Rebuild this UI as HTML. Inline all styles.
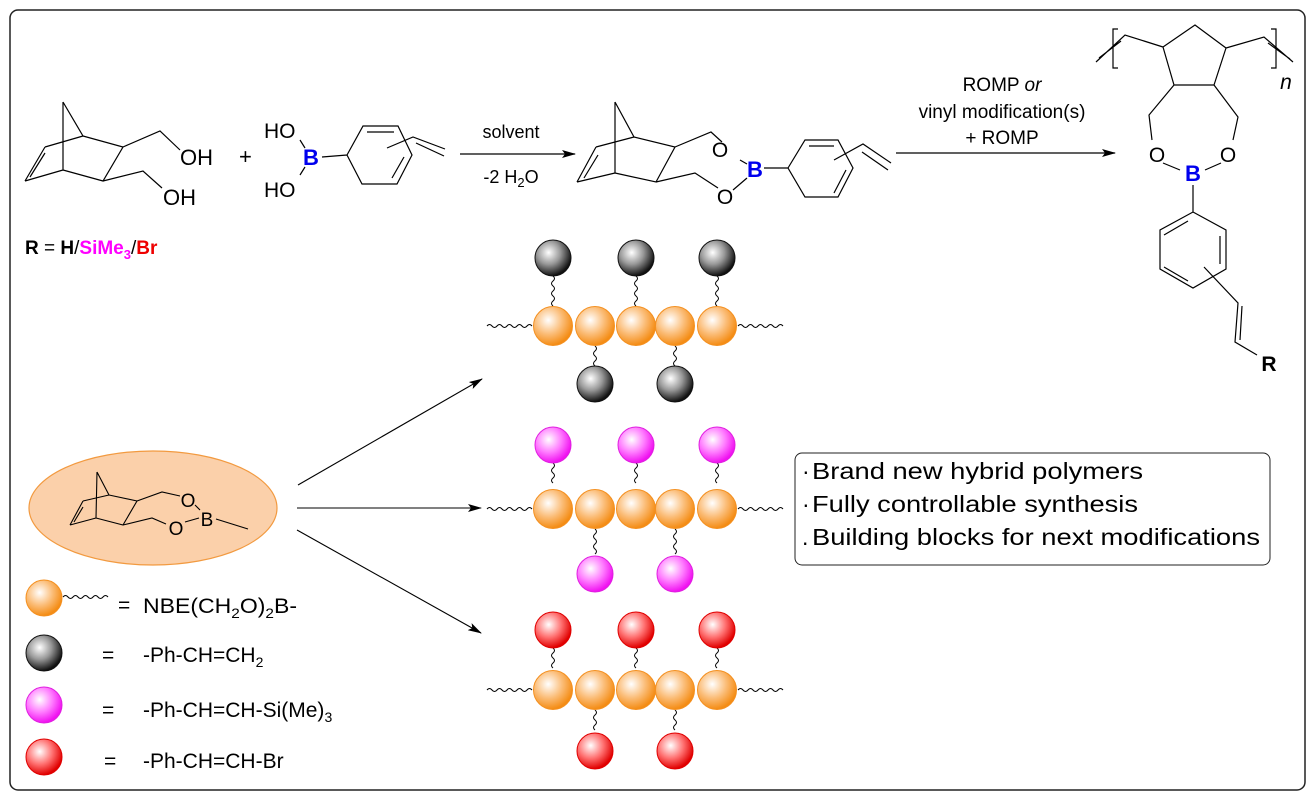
<!DOCTYPE html>
<html><head><meta charset="utf-8"><style>
html,body{margin:0;padding:0;background:#fff}
svg{display:block;font-family:"Liberation Sans",Arial,sans-serif}
</style></head><body>
<svg width="1315" height="800" viewBox="0 0 1315 800" xmlns="http://www.w3.org/2000/svg">
<defs>
<radialGradient id="go" cx="0.38" cy="0.35" r="0.65"><stop offset="0" stop-color="#fff"/><stop offset="0.55" stop-color="#fbbd78"/><stop offset="1" stop-color="#f48c14"/></radialGradient>
<radialGradient id="gk" cx="0.38" cy="0.35" r="0.65"><stop offset="0" stop-color="#fff"/><stop offset="0.5" stop-color="#999"/><stop offset="1" stop-color="#111"/></radialGradient>
<radialGradient id="gm" cx="0.38" cy="0.35" r="0.65"><stop offset="0" stop-color="#fff"/><stop offset="0.55" stop-color="#ff7cff"/><stop offset="1" stop-color="#f010f0"/></radialGradient>
<radialGradient id="gr" cx="0.38" cy="0.35" r="0.65"><stop offset="0" stop-color="#fff"/><stop offset="0.55" stop-color="#ff7070"/><stop offset="1" stop-color="#e00000"/></radialGradient>
<marker id="ah" markerWidth="14" markerHeight="8" refX="13" refY="4" orient="auto" markerUnits="userSpaceOnUse"><path d="M0,0 L14,4 L0,8 L3,4z" fill="#000"/></marker>
<path id="wh" d="M0,0 q2.5,-3 5,0 t5,0 t5,0 t5,0 t5,0 t5,0 t5,0 t5,0 t5,0" fill="none" stroke="#000" stroke-width="1"/>
<g id="chain">
<use href="#wh" x="487" y="0"/><use href="#wh" x="738" y="0"/>
<circle cx="553" cy="0" r="19.5" fill="url(#go)" stroke="#f49020"/>
<circle cx="595" cy="0" r="19.5" fill="url(#go)" stroke="#f49020"/>
<circle cx="636" cy="0" r="19.5" fill="url(#go)" stroke="#f49020"/>
<circle cx="675" cy="0" r="19.5" fill="url(#go)" stroke="#f49020"/>
<circle cx="717" cy="0" r="19.5" fill="url(#go)" stroke="#f49020"/>
</g>
</defs>

<rect x="10" y="10" width="1295" height="780" rx="8" fill="none" stroke="#222" stroke-width="1.5"/>

<g stroke="#000" stroke-width="1.2" fill="none">
<path d="M63,102 L83,136 M63,102 L63,170 M45,147 L83,136 M25,181 L63,170 M45,147 L25,181 M45,153 L30,177 M83,136 L123,147 L103,181 L63,170 M123,147 L160,131 L180,150 M103,181 L143,171 L162,188"/>
<path d="M300,140 L305,148 M300,175 L305,167 M322,157 L347,155 M347,155 L363,126 L398,126 L412,155 L397,184 L362,184 Z M367,132 L394,132 M404,157 L392,178 M387,148 L413,137 L445,149 M416,143 L444,156"/>
<path d="M615,102 L634,137 M615,102 L615,173 M596,147 L634,137 M577,182 L615,173 M596,147 L577,182 M598,155 L584,178 M634,137 L675,147 L656,182 L615,173 M675,147 L711,132 L722,142 M656,182 L695,173 L718,188 M740,160 L747,164 M733,190 L747,178 M764,168 L788,168 M788,168 L805,140 L838,140 L853,168 L838,197 L805,197 Z M809,146 L834,146 M846,170 L834,193 M834,160 L863,144 L891,163 M862,152 L888,170"/>
<path d="M1195,25 L1163,47 L1174,85 L1214,85 L1226,48 Z M1163,47 L1125,35 L1096,62 M1121,41 L1099,58 M1226,48 L1264,37 L1293,62 M1268,43 L1290,59 M1118,29 L1113,29 L1113,68 L1118,68 M1271,29 L1276,29 L1276,68 L1271,68 M1174,85 L1149,115 L1152,140 M1214,85 L1238,117 L1233,140 M1163,163 L1180,170 M1221,163 L1205,170 M1193,185 L1193,212 M1193,212 L1226,230 L1226,269 L1193,288 L1160,269 L1160,230 Z M1220,236 L1220,264 M1188,281 L1164,267 M1164,235 L1188,221 M1204,267 L1238,303 L1235,342 L1257,355 M1242,306 L1240,340"/>
</g>
<text font-size="22" x="180" y="165">OH</text>
<text font-size="22" x="163" y="205">OH</text>
<text font-size="22" x="239" y="164">+</text>
<text font-size="21" x="264" y="138">HO</text>
<text font-size="21" x="264" y="197">HO</text>
<text font-size="22" x="303" y="165" fill="#0000ee" font-weight="bold">B</text>
<text font-size="19" x="25" y="254" font-weight="bold">R <tspan font-weight="normal">=</tspan> H<tspan font-weight="normal">/</tspan><tspan fill="#ff00ff">SiMe<tspan font-size="13" dy="5">3</tspan></tspan><tspan font-weight="normal" dy="-5">/</tspan><tspan fill="#ee0000">Br</tspan></text>

<line x1="460" y1="154" x2="575" y2="154" stroke="#000" stroke-width="1.2" marker-end="url(#ah)"/>
<text font-size="18" x="511" y="138" text-anchor="middle">solvent</text>
<text font-size="18" x="511" y="183" text-anchor="middle">-2 H<tspan font-size="13" dy="4">2</tspan><tspan dy="-4">O</tspan></text>

<text font-size="21" x="720" y="157" text-anchor="middle">O</text>
<text font-size="21" x="725" y="204" text-anchor="middle">O</text>
<text font-size="22" x="755" y="177" text-anchor="middle" fill="#0000ee" font-weight="bold">B</text>

<line x1="896" y1="153" x2="1115" y2="153" stroke="#000" stroke-width="1.2" marker-end="url(#ah)"/>
<text font-size="19" x="1002" y="91" text-anchor="middle">ROMP <tspan font-style="italic">or</tspan></text>
<text font-size="19" x="1002" y="118" text-anchor="middle">vinyl modification(s)</text>
<text font-size="19" x="1002" y="144" text-anchor="middle">+ ROMP</text>

<text font-size="21" x="1157" y="162" text-anchor="middle">O</text>
<text font-size="21" x="1228" y="162" text-anchor="middle">O</text>
<text font-size="22" x="1193" y="181" text-anchor="middle" fill="#0000ee" font-weight="bold">B</text>
<text font-size="21" x="1269" y="371" text-anchor="middle" font-weight="bold">R</text>
<text font-size="21" x="1286" y="89" text-anchor="middle" font-style="italic">n</text>

<ellipse cx="153" cy="508" rx="124" ry="57" fill="#fbd0aa" stroke="#f29a40" stroke-width="1.2"/>
<g stroke="#000" stroke-width="1.1" fill="none">
<path d="M97,472 L109,495 M97,472 L96,518 M83,501 L109,495 M70,525 L96,518 M83,501 L70,525 M83,507 L74,522 M109,495 L137,501 L123,525 L96,518 M137,501 L162,492 L180,496 M123,525 L152,518 L166,524 M195,505 L200,510 M185,522 L199,518 M216,519 L248,529"/>
</g>
<text font-size="19" x="188" y="507" text-anchor="middle">O</text>
<text font-size="19" x="176" y="535" text-anchor="middle">O</text>
<text font-size="19" x="207" y="526" text-anchor="middle">B</text>

<g stroke="#000" stroke-width="1.1" marker-end="url(#ah)">
<line x1="298" y1="485" x2="482" y2="379"/>
<line x1="297" y1="508" x2="481" y2="508"/>
<line x1="297" y1="530" x2="481" y2="633"/>
</g>

<g stroke="#000" stroke-width="1" fill="none">
<path d="M553,276 q3,2.5 0,5 t0,5 t0,5 t0,5 t0,5 t0,5"/>
<path d="M636,276 q3,2.5 0,5 t0,5 t0,5 t0,5 t0,5 t0,5"/>
<path d="M717,276 q3,2.5 0,5 t0,5 t0,5 t0,5 t0,5 t0,5"/>
<path d="M595,346 q3,2.5 0,5 t0,5 t0,5 t0,5"/>
<path d="M675,346 q3,2.5 0,5 t0,5 t0,5 t0,5"/>
<path d="M553,463 q3,2.5 0,5 t0,5 t0,5 t0,5"/>
<path d="M636,463 q3,2.5 0,5 t0,5 t0,5 t0,5"/>
<path d="M717,463 q3,2.5 0,5 t0,5 t0,5 t0,5"/>
<path d="M595,529 q3,2.5 0,5 t0,5 t0,5 t0,5 t0,5"/>
<path d="M675,529 q3,2.5 0,5 t0,5 t0,5 t0,5 t0,5"/>
<path d="M553,648 q3,2.5 0,5 t0,5 t0,5 t0,5"/>
<path d="M636,648 q3,2.5 0,5 t0,5 t0,5 t0,5"/>
<path d="M717,648 q3,2.5 0,5 t0,5 t0,5 t0,5"/>
<path d="M595,710 q3,2.5 0,5 t0,5 t0,5 t0,5"/>
<path d="M675,710 q3,2.5 0,5 t0,5 t0,5 t0,5"/>
</g>
<use href="#chain" y="326"/>
<use href="#chain" y="509"/>
<use href="#chain" y="690"/>
<g stroke="#111" stroke-width="1">
<circle cx="553" cy="258" r="18" fill="url(#gk)"/><circle cx="636" cy="258" r="18" fill="url(#gk)"/><circle cx="717" cy="258" r="18" fill="url(#gk)"/>
<circle cx="595" cy="384" r="18" fill="url(#gk)"/><circle cx="675" cy="384" r="18" fill="url(#gk)"/>
</g>
<g stroke="#e020e0" stroke-width="1">
<circle cx="553" cy="445" r="18" fill="url(#gm)"/><circle cx="636" cy="445" r="18" fill="url(#gm)"/><circle cx="717" cy="445" r="18" fill="url(#gm)"/>
<circle cx="595" cy="574" r="18" fill="url(#gm)"/><circle cx="675" cy="574" r="18" fill="url(#gm)"/>
</g>
<g stroke="#e00000" stroke-width="1">
<circle cx="553" cy="630" r="18" fill="url(#gr)"/><circle cx="636" cy="630" r="18" fill="url(#gr)"/><circle cx="717" cy="630" r="18" fill="url(#gr)"/>
<circle cx="595" cy="751" r="18" fill="url(#gr)"/><circle cx="675" cy="751" r="18" fill="url(#gr)"/>
</g>

<path d="M63,597 q2.5,-3 5,0 t5,0 t5,0 t5,0 t5,0 t5,0 t5,0 t5,0 t5,0" fill="none" stroke="#000" stroke-width="1"/>
<circle cx="44" cy="598" r="18" fill="url(#go)" stroke="#f49020"/>
<circle cx="44" cy="653" r="18" fill="url(#gk)" stroke="#111"/>
<circle cx="44" cy="705" r="18" fill="url(#gm)" stroke="#e020e0"/>
<circle cx="44" cy="757" r="18" fill="url(#gr)" stroke="#e00000"/>
<g font-size="21">
<text x="118" y="612">=</text>
<text x="102" y="662">=</text>
<text x="102" y="717">=</text>
<text x="104" y="768">=</text>
<text x="143" y="613" textLength="154" lengthAdjust="spacingAndGlyphs">NBE(CH<tspan font-size="14" dy="5">2</tspan><tspan dy="-5">O)</tspan><tspan font-size="14" dy="5">2</tspan><tspan dy="-5">B-</tspan></text>
<text x="143" y="662">-Ph-CH=CH<tspan font-size="14" dy="5">2</tspan></text>
<text x="143" y="717">-Ph-CH=CH-Si(Me)<tspan font-size="14" dy="5">3</tspan></text>
<text x="143" y="768">-Ph-CH=CH-Br</text>
</g>

<rect x="795" y="453" width="475" height="112" rx="7" fill="none" stroke="#222" stroke-width="1"/>
<g font-size="23">
<text x="802" y="479">·</text><text x="812" y="479" textLength="331" lengthAdjust="spacingAndGlyphs">Brand new hybrid polymers</text>
<text x="802" y="512">·</text><text x="812" y="512" textLength="326" lengthAdjust="spacingAndGlyphs">Fully controllable synthesis</text>
<text x="802" y="545">.</text><text x="812" y="545" textLength="448" lengthAdjust="spacingAndGlyphs">Building blocks for next modifications</text>
</g>
</svg>
</body></html>
